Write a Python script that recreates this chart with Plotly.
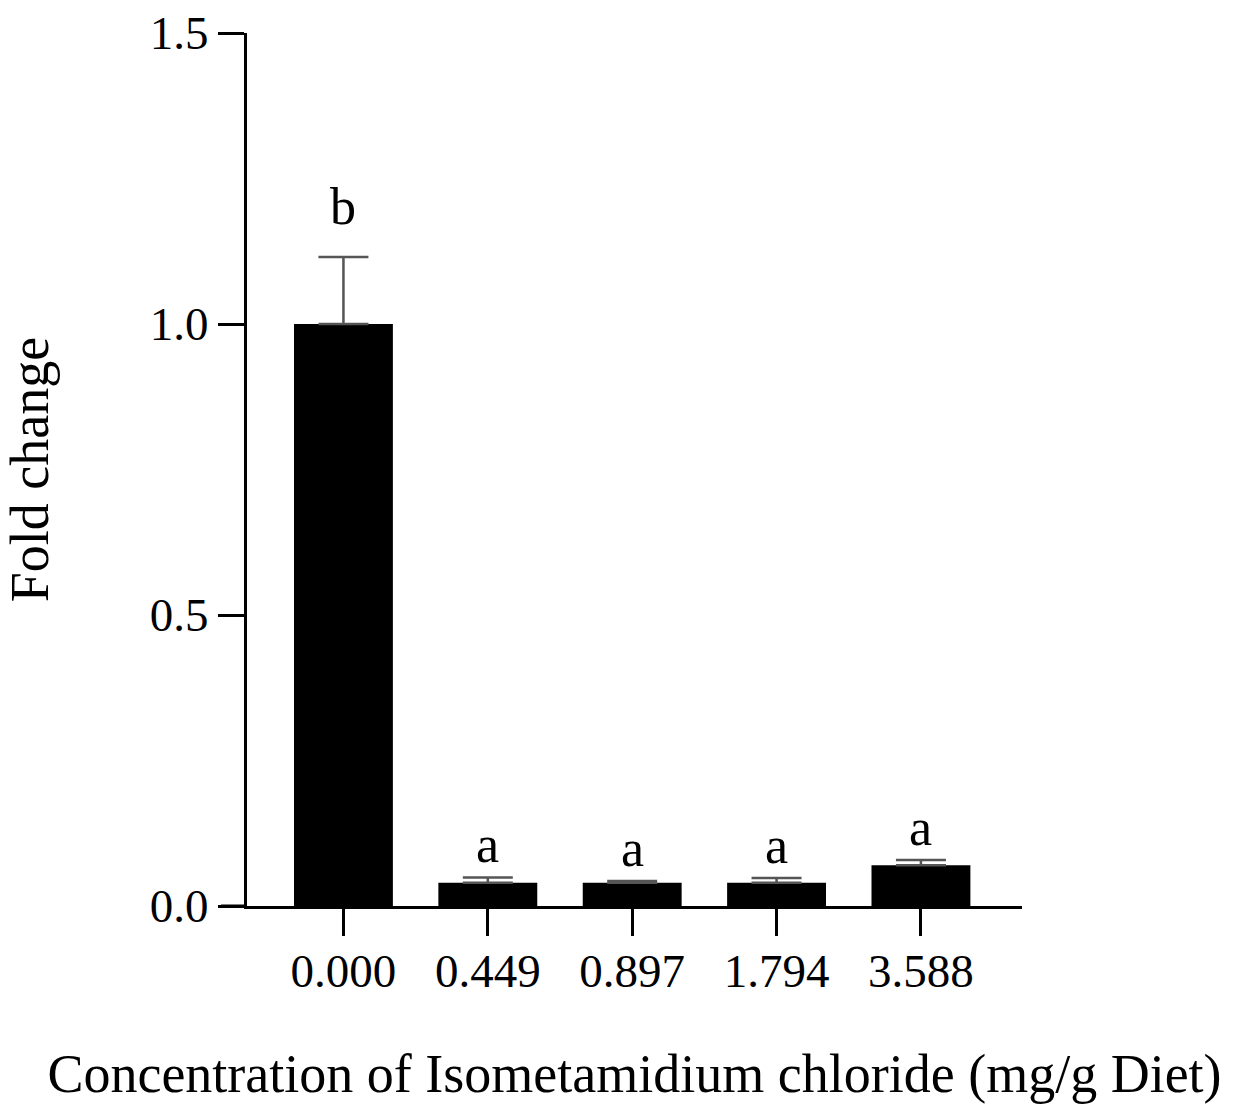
import plotly.graph_objects as go

# Isometamidium chloride dose groups and measured fold change (mean + SE)
concentrations = ["0.000", "0.449", "0.897", "1.794", "3.588"]
fold_change = [1.0, 0.04, 0.04, 0.04, 0.07]
error_upper = [0.115, 0.009, 0.003, 0.008, 0.009]
group_letters = ["b", "a", "a", "a", "a"]
y_ticks = [0.0, 0.5, 1.0, 1.5]
y_tick_text = ["0.0", "0.5", "1.0", "1.5"]

FONT = "Liberation Serif"
W, H = 1235, 1112
LEFT, RIGHT, TOP, BOTTOM = 247, 1022, 33, 906

fig = go.Figure()
fig.add_trace(go.Bar(
    x=concentrations,
    y=fold_change,
    width=0.685,
    marker=dict(color="black", line=dict(width=0)),
    error_y=dict(
        type="data",
        symmetric=False,
        array=error_upper,
        arrayminus=[0] * len(error_upper),
        color="#555555",
        thickness=2.5,
        width=25,
    ),
    showlegend=False,
))

# significance letters above each error bar (x given as category index,
# since the numeric-looking labels would otherwise be read as positions)
for i, (val, err, letter) in enumerate(zip(fold_change, error_upper, group_letters)):
    fig.add_annotation(
        x=i, y=val + err, text=letter, showarrow=False,
        yanchor="bottom", yshift=20 if letter == "b" else 2,
        font=dict(family=FONT, size=52, color="black"),
    )

# x-axis baseline continues left to the end of the y ticks
fig.add_shape(
    type="line", xref="paper", yref="y",
    x0=(221 - LEFT) / (RIGHT - LEFT), x1=0, y0=0, y1=0,
    line=dict(color="black", width=3),
)

fig.update_layout(
    template="none",
    width=W, height=H,
    margin=dict(l=LEFT, r=W - RIGHT, t=TOP, b=H - BOTTOM, pad=0),
    paper_bgcolor="white", plot_bgcolor="white",
    font=dict(family=FONT, color="black"),
    xaxis=dict(
        type="category",
        range=[-0.668, 4.70],
        automargin=False,
        showline=True, linecolor="black", linewidth=3,
        ticks="outside", ticklen=27, tickwidth=3, tickcolor="black",
        tickfont=dict(family=FONT, size=47, color="black"),
        ticklabelstandoff=-5,
        showgrid=False, zeroline=False,
        title=dict(text="Concentration of Isometamidium chloride (mg/g Diet)",
                   font=dict(family=FONT, size=54, color="black"), standoff=58),
    ),
    yaxis=dict(
        range=[0, 1.5],
        automargin=False,
        tickvals=y_ticks, ticktext=y_tick_text,
        showline=True, linecolor="black", linewidth=3,
        ticks="outside", ticklen=26, tickwidth=3, tickcolor="black",
        tickfont=dict(family=FONT, size=47, color="black"),
        ticklabelstandoff=0,
        showgrid=False, zeroline=False,
        title=dict(text="Fold change",
                   font=dict(family=FONT, size=54, color="black"), standoff=85),
    ),
)

fig.write_html("out.html")
